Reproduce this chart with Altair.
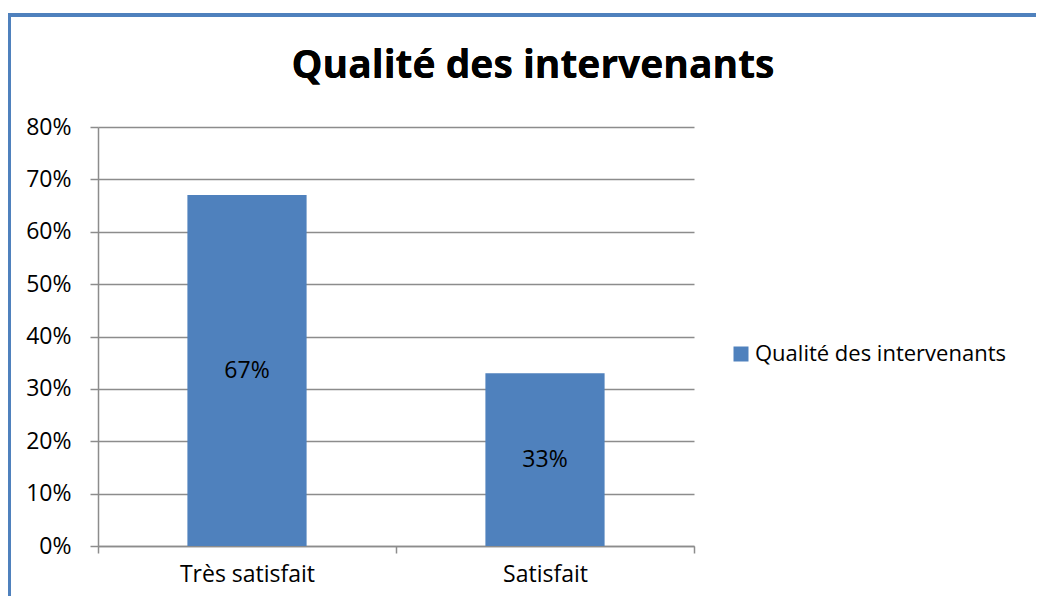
import altair as alt
import pandas as pd

categories = ["Très satisfait", "Satisfait"]
values = [0.67, 0.33]
series_name = "Qualité des intervenants"
title_text = "Qualité des intervenants"

df = pd.DataFrame({"cat": categories, "val": values, "serie": [series_name] * len(categories)})

FONT = "Open Sans"
BLUE = "#4F81BD"
GRID = "#8C8C8C"
FS = 23

x_enc = alt.X("cat:N", sort=categories, title=None,
              scale=alt.Scale(paddingInner=0, paddingOuter=0),
              axis=alt.Axis(labelAngle=0, tickBand="extent", domainColor=GRID, tickColor=GRID,
                            tickSize=7, labelPadding=10, labelFontSize=FS, labelFont=FONT,
                            labelColor="#000000", domainWidth=1.5, tickWidth=1.5))
y_enc = alt.Y("val:Q", title=None,
              scale=alt.Scale(domain=[0, 0.8], nice=False),
              axis=alt.Axis(format=".0%", values=[0, 0.1, 0.2, 0.3, 0.4, 0.5, 0.6, 0.7, 0.8],
                            grid=True, gridColor=GRID, gridWidth=1.5, domainColor=GRID,
                            tickColor=GRID, tickSize=8, labelPadding=19, labelFontSize=FS,
                            labelFont=FONT, labelColor="#000000", domainWidth=1.5, tickWidth=1.5))

bars = alt.Chart(df).mark_bar(width=alt.RelativeBandSize(0.4), color=BLUE).encode(
    x=x_enc,
    y=y_enc,
    color=alt.Color("serie:N", scale=alt.Scale(range=[BLUE]),
                    legend=alt.Legend(title=None, orient="none", legendX=632, legendY=216,
                                      symbolType="square", symbolSize=225, symbolStrokeWidth=0,
                                      labelFontSize=22, labelFont=FONT, labelColor="#000000",
                                      labelOffset=3, labelLimit=500)),
)

labels = alt.Chart(df).transform_calculate(mid="datum.val / 2").mark_text(
    fontSize=FS, font=FONT, color="#000000", baseline="middle"
).encode(
    x=alt.X("cat:N", sort=categories),
    y=alt.Y("mid:Q"),
    text=alt.Text("val:Q", format=".0%"),
)

title = alt.Chart(df).mark_text(
    text=title_text, fontSize=39, font=FONT, fontWeight="bold", color="#000000",
    align="center", baseline="middle"
).encode(x=alt.value(435), y=alt.value(-61))

frame_top = alt.Chart(df).mark_rule(color=BLUE, strokeWidth=4).encode(
    x=alt.value(-91), x2=alt.value(960), y=alt.value(-112)
)
frame_left = alt.Chart(df).mark_rule(color=BLUE, strokeWidth=4).encode(
    x=alt.value(-89), y=alt.value(-114), y2=alt.value(480)
)

chart = alt.layer(bars, labels, title, frame_top, frame_left).properties(
    width=596, height=419,
    autosize=alt.AutoSizeParams(type="none"),
    padding={"left": 90, "top": 119, "right": 342, "bottom": 50},
).configure_view(stroke=None)

chart.save("out.html", embed_options={"renderer": "svg", "actions": False})
